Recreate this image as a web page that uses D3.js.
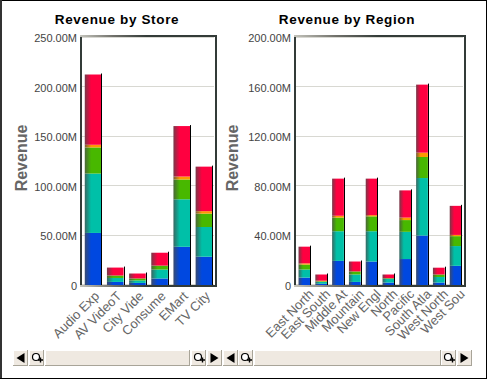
<!DOCTYPE html>
<html><head><meta charset="utf-8">
<script src="https://cdn.jsdelivr.net/npm/d3@7"></script>
<style>
html,body{margin:0;padding:0;background:#fff;overflow:hidden}
svg{display:block}
text{font-family:"Liberation Sans",Arial,sans-serif}
</style></head><body>
<svg id="c" width="487" height="380"></svg>
<script>
const seriesNames = ["blue","teal","green","orange","red"];
const seriesColors = ["#0048e0","#00c0a8","#48b800","#ff9800","#ff0040"];

const storeTitle = "Revenue by Store";
const stores = ["Audio Exp","AV VideoT","City Vide","Consume","EMart","TV City"];
const storeBlue   = [52,2.5,1.5,6,38,28];
const storeTeal   = [60,4,2.5,9,48,30];
const storeGreen  = [26.4,2.5,2,4,20,13.5];
const storeOrange = [2.7,0,0,0,3,2.5];
const storeRed    = [71,8,5,13,51,45];
const storeTicks  = [0,50,100,150,200,250];

const regionTitle = "Revenue by Region";
const regions = ["East North","East South","Middle At","Mountain","New Engl","North","Pacific","South Atla","West North","West Sou"];
const regionBlue   = [5.5,.5,19,2,18.5,1.5,20.5,39.5,1.5,15];
const regionTeal   = [6.5,1.5,24,6,24.5,3,22,46.5,4.5,16];
const regionGreen  = [4,.5,11,2.5,12,.5,9.5,17,2,8];
const regionOrange = [1,.5,1.5,0,1,0,2,3.5,0,1];
const regionRed    = [13.5,5,30,8,29.5,3,22,55,5.5,23.5];
const regionTicks  = [0,40,80,120,160,200];

const svg = d3.select("#c");
const defs = svg.append("defs");
seriesColors.forEach((c,i)=>{
  const g = defs.append("linearGradient").attr("id","g"+i);
  g.append("stop").attr("offset",0).attr("stop-color",d3.interpolateRgb(c,"#4a4a4a")(.75));
  g.append("stop").attr("offset",.38).attr("stop-color",c);
  g.append("stop").attr("offset",1).attr("stop-color",c);
});
const fr = defs.append("linearGradient").attr("id","frameFade");
fr.append("stop").attr("offset",0).attr("stop-color","#c4c4bc");
fr.append("stop").attr("offset",.5).attr("stop-color","#70706a");
fr.append("stop").attr("offset",1).attr("stop-color","#333b38");

// window border
svg.append("rect").attr("x",0).attr("y",0).attr("width",487).attr("height",1).attr("fill","#000");
svg.append("rect").attr("x",0).attr("y",0).attr("width",2).attr("height",379).attr("fill","#333");
svg.append("rect").attr("x",486).attr("y",0).attr("width",1).attr("height",379).attr("fill","#000");
svg.append("rect").attr("x",0).attr("y",378).attr("width",487).attr("height",1).attr("fill","#000");

function chart(o){
  const rows = o.cats.map((c,i)=>({cat:c,blue:o.s[0][i],teal:o.s[1][i],green:o.s[2][i],orange:o.s[3][i],red:o.s[4][i]}));
  const stacked = d3.stack().keys(seriesNames)(rows);
  const x = d3.scaleBand().domain(o.cats).range([o.left,o.right]).paddingInner(o.pad).paddingOuter(o.pad/2);
  const y = d3.scaleLinear().domain([0,o.max]).range([284.4,37]);
  const g = svg.append("g");

  g.append("text").attr("x",o.titleX).attr("y",24).attr("text-anchor","middle")
    .attr("font-size",13.5).attr("font-weight","bold").attr("letter-spacing",".65").attr("fill","#000").text(o.title);

  g.append("g").selectAll("line").data(o.ticks).join("line")
    .attr("x1",o.left).attr("x2",o.right-1).attr("y1",d=>Math.round(y(d))+.5).attr("y2",d=>Math.round(y(d))+.5)
    .attr("stroke","#d8d8d2").attr("stroke-width",1);

  const ax = g.append("g").attr("transform",`translate(${o.left-1},0)`)
    .call(d3.axisLeft(y).tickValues(o.ticks).tickSize(0).tickPadding(4)
      .tickFormat(d=>d===0?"0":d3.format(".2f")(d)+"M"));
  ax.select(".domain").remove();
  ax.selectAll("text").attr("font-size",11).attr("fill","#444").attr("font-family",'"Liberation Sans",Arial,sans-serif').attr("dy",".42em");

  const sel = g.append("g").selectAll("g").data(stacked).join("g").attr("fill",(d,i)=>`url(#g${i})`);
  sel.selectAll("rect").data(d=>d.map(v=>({v,cat:v.data.cat}))).join("rect")
    .attr("x",d=>x(d.cat)).attr("width",x.bandwidth())
    .attr("y",d=>y(d.v[1])).attr("height",d=>Math.max(0,y(d.v[0])-y(d.v[1]))+(d.v[0]===0?1:0));
  const top = stacked[stacked.length-1];
  g.append("g").selectAll("line").data(top).join("line")
    .attr("x1",d=>Math.round(x(d.data.cat)+x.bandwidth())+.5).attr("x2",d=>Math.round(x(d.data.cat)+x.bandwidth())+.5)
    .attr("y1",d=>y(d[1])-1).attr("y2",285).attr("stroke","#000");

  // frame
  g.append("rect").attr("x",o.left-2).attr("y",35).attr("width",2).attr("height",252).attr("fill","#333b38");
  g.append("rect").attr("x",o.right).attr("y",35).attr("width",2).attr("height",252).attr("fill","#333b38");
  g.append("rect").attr("x",o.left-2).attr("y",35).attr("width",o.right-o.left+4).attr("height",2).attr("fill","#333b38");
  g.append("rect").attr("x",o.left-2).attr("y",285).attr("width",o.right-o.left+4).attr("height",2).attr("fill","#333b38");
  g.append("rect").attr("x",o.left-2).attr("y",35).attr("width",(o.right-o.left)*.5).attr("height",2).attr("fill","url(#frameFade)");
  g.append("rect").attr("x",o.left-2).attr("y",285).attr("width",(o.right-o.left)*.5).attr("height",2).attr("fill","url(#frameFade)");

  const xa = g.append("g").attr("transform","translate(0,287)")
    .call(d3.axisBottom(x).tickSize(0).tickPadding(0));
  xa.select(".domain").remove();
  xa.selectAll("text").attr("text-anchor","end").attr("font-size",o.xFont).attr("fill","#666")
    .attr("font-family",'"Liberation Sans",Arial,sans-serif')
    .attr("dy",0).attr("y",0)
    .attr("transform",`translate(${o.xShift},${o.yShift}) rotate(-45)`);

  g.append("text").attr("transform",`translate(${o.yTitleX},158) rotate(-90)`).attr("text-anchor","middle")
    .attr("font-size",16).attr("font-weight","bold").attr("fill","#666").text("Revenue");
}

chart({title:storeTitle,titleX:117,cats:stores,s:[storeBlue,storeTeal,storeGreen,storeOrange,storeRed],
  max:250,ticks:storeTicks,left:82,right:215,pad:.25,xFont:13,xShift:7,yShift:10,yTitleX:27});
chart({title:regionTitle,titleX:347,cats:regions,s:[regionBlue,regionTeal,regionGreen,regionOrange,regionRed],
  max:200,ticks:regionTicks,left:296,right:464,pad:.3,xFont:13,xShift:10,yShift:8,yTitleX:238});

// scrollbars
function btn(x,w){
  const g = svg.append("g");
  g.append("rect").attr("x",x).attr("y",350).attr("width",w).attr("height",16).attr("fill","#a8a498");
  g.append("rect").attr("x",x).attr("y",350).attr("width",w-1).attr("height",15).attr("fill","#fff");
  g.append("rect").attr("x",x+1).attr("y",351).attr("width",w-2).attr("height",14).attr("fill","#efe9e1");
  return g;
}
const arrow=(x,dir)=>{ const g=btn(x,15);
  const cx=x+7.5;
  g.append("path").attr("d",`M${cx+dir*-4},358 L${cx+dir*4},353 L${cx+dir*4},363 Z`).attr("fill","#000");
};
const zoomB=(x)=>{ const g=btn(x,15);
  g.append("circle").attr("cx",x+7).attr("cy",357).attr("r",3.5).attr("fill","#fff").attr("stroke","#000").attr("stroke-width",1.2);
  g.append("path").attr("d",`M${x+9},360 h5 M${x+11.5},357.5 v5`).attr("stroke","#000").attr("stroke-width",1.4);
};
function bar(a,zl,tx,tw,zr,b){
  arrow(a,1); zoomB(zl); btn(tx,tw); zoomB(zr); arrow(b,-1);
}
bar(13,29,45,145,191,207);
bar(223,238,254,187,441,457);
</script>
</body></html>
